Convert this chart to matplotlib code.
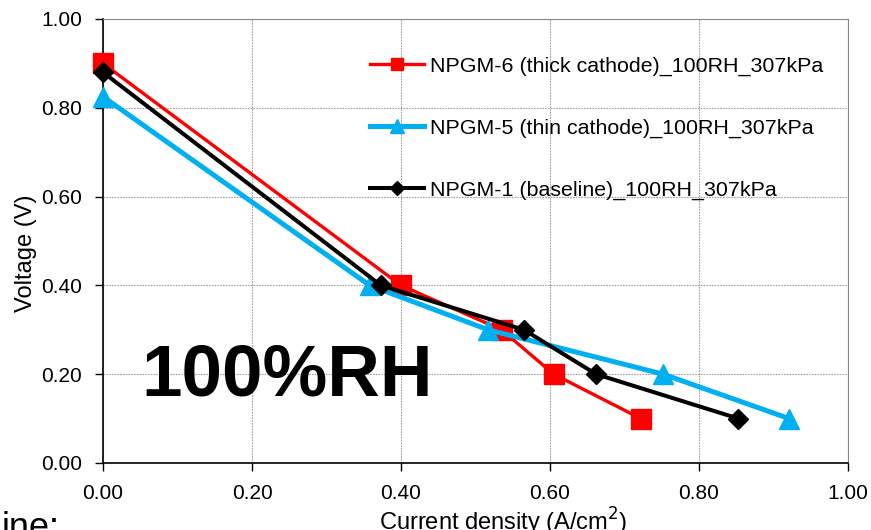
import numpy as np
import matplotlib
matplotlib.use("Agg")
import matplotlib.pyplot as plt

plt.rcParams['font.family'] = ['Liberation Sans', 'DejaVu Sans']

# polarization data
x_thick = [0.0, 0.40, 0.535, 0.605, 0.722]
v_thick = [0.90, 0.40, 0.30, 0.20, 0.10]

x_thin = [0.0, 0.358, 0.517, 0.752, 0.921]
v_thin = [0.825, 0.40, 0.30, 0.20, 0.10]

x_base = [0.0, 0.373, 0.565, 0.662, 0.853]
v_base = [0.88, 0.40, 0.30, 0.20, 0.10]

labels = ['NPGM-6 (thick cathode)_100RH_307kPa',
          'NPGM-5 (thin cathode)_100RH_307kPa',
          'NPGM-1 (baseline)_100RH_307kPa']
ticks = [0.0, 0.2, 0.4, 0.6, 0.8, 1.0]

fig = plt.figure(figsize=(8.71, 5.30), dpi=100)
ax = fig.add_axes([103 / 871, (530 - 463) / 530, 745 / 871, 444 / 530])

ax.plot(x_thick, v_thick, color='#FF0000', lw=2.4, marker='s', ms=14,
        label=labels[0], zorder=3, clip_on=False)
ax.plot(x_thin, v_thin, color='#00B0F0', lw=3.6, marker='^', ms=15,
        label=labels[1], zorder=4, clip_on=False)
ax.plot(x_base, v_base, color='black', lw=2.9, marker='D', ms=10.5,
        label=labels[2], zorder=5, clip_on=False)

ax.set_xlim(0, 1)
ax.set_ylim(0, 1)
ax.set_xticks(ticks)
ax.set_yticks(ticks)
ax.xaxis.set_major_formatter(matplotlib.ticker.FormatStrFormatter('%.2f'))
ax.yaxis.set_major_formatter(matplotlib.ticker.FormatStrFormatter('%.2f'))
ax.tick_params(direction='out', length=6, width=1, pad=9, labelsize=15)
ax.grid(True, color='#a0a0a0', lw=0.8, ls=(0, (1.5, 1.0)))
ax.set_axisbelow(True)

for side in ['top', 'right']:
    ax.spines[side].set_color('#888888')
for side in ['left', 'bottom']:
    ax.spines[side].set_color('black')
    ax.spines[side].set_linewidth(1.2)

ax.set_xlabel('Current density (A/cm$^2$)', fontsize=17)
ax.set_ylabel('Voltage (V)', fontsize=17)
ax.xaxis.set_label_coords(0.537, -0.096)
ax.yaxis.set_label_coords(-0.088, 0.473)

ax.text(0.052, 0.151, '100%RH', fontsize=52.5, fontweight='bold',
        ha='left', va='baseline')

ax.legend(loc='upper left', bbox_to_anchor=(0.347, 0.935), frameon=False,
          fontsize=15.4, handlelength=2.5, handletextpad=0.3,
          labelspacing=2.0, markerscale=0.65, borderaxespad=0)

# leftover text from the slide, cut by the frame edge
fig.text(0.002, -0.015, 'ine:', fontsize=26, ha='left', va='baseline')

fig.savefig('out.png', dpi=100)
